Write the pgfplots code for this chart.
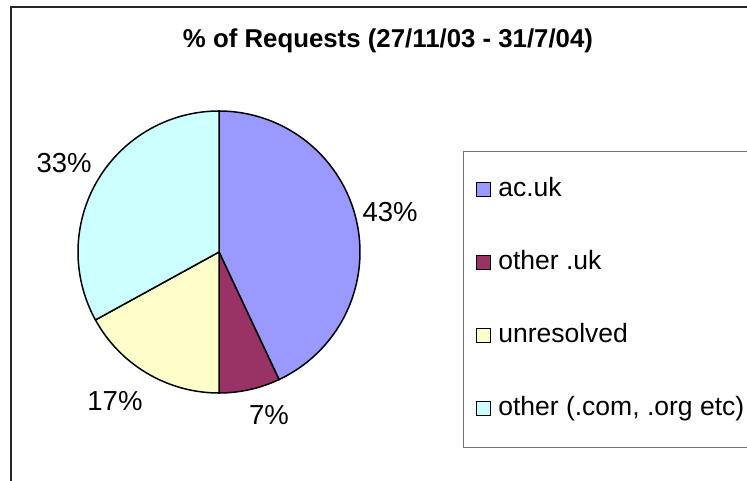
\documentclass[border=0pt]{standalone}
\usepackage{pgfplots}
\pgfplotsset{compat=1.18}
\usepackage{fontspec}
\setmainfont{Liberation Sans}
\definecolor{cA}{HTML}{9999FF}
\definecolor{cB}{HTML}{993366}
\definecolor{cC}{HTML}{FFFFCC}
\definecolor{cD}{HTML}{CCFFFF}
% shares in percent
\def\vA{43}\def\vB{7}\def\vC{17}\def\vD{33}
\begin{document}
\begin{tikzpicture}
\path[use as bounding box] (0pt,0pt) rectangle (747pt,-481pt);
\clip (0pt,0pt) rectangle (747pt,-481pt);
\fill[white] (0pt,0pt) rectangle (747pt,-481pt);
\draw[black!85, line width=1.5pt] (11pt,-7pt) rectangle (780pt,-520pt);
\node[font=\bfseries\fontsize{25.8}{30}\selectfont] at (388pt,-41pt) {\% of Requests (27/11/03 - 31/7/04)};
\draw[black!55, line width=1pt] (463pt,-152pt) rectangle (790pt,-447pt);
\pgfmathsetmacro{\sA}{90}
\pgfmathsetmacro{\sB}{\sA-\vA*3.6}
\pgfmathsetmacro{\sC}{\sB-\vB*3.6}
\pgfmathsetmacro{\sD}{\sC-\vC*3.6}
\pgfmathsetmacro{\sE}{\sD-\vD*3.6}
\begin{axis}[
  at={(219pt,-252pt)}, anchor=center,
  width=282pt, height=282pt, scale only axis,
  xmin=-1, xmax=1, ymin=-1, ymax=1,
  hide axis, clip=false,
  legend cell align=left,
  legend image code/.code={\draw[#1, draw=black, line width=1.3pt] (0pt,-7pt) rectangle (14pt,7pt);},
  legend style={at={(axis description cs:1.40,0.78)}, anchor=north west, draw=none, fill=none,
    row sep=45pt, column sep=5pt,
    font=\fontsize{26.5}{32}\selectfont,
    nodes={inner sep=2pt, text height=19pt, text depth=5pt}},
]
\addplot[fill=cA, draw=black, line width=1.5pt, domain=\sB:\sA, samples=90] ({cos(x)},{sin(x)}) -- (0,0) -- cycle;
\addlegendentry{ac.uk}
\addplot[fill=cB, draw=black, line width=1.5pt, domain=\sC:\sB, samples=30] ({cos(x)},{sin(x)}) -- (0,0) -- cycle;
\addlegendentry{other .uk}
\addplot[fill=cC, draw=black, line width=1.5pt, domain=\sD:\sC, samples=40] ({cos(x)},{sin(x)}) -- (0,0) -- cycle;
\addlegendentry{unresolved}
\addplot[fill=cD, draw=black, line width=1.5pt, domain=\sE:\sD, samples=80] ({cos(x)},{sin(x)}) -- (0,0) -- cycle;
\addlegendentry{other (.com,  .org etc)}
\node[font=\fontsize{27.5}{33}\selectfont] at (axis cs:1.213,0.284) {\vA\%};
\node[font=\fontsize{27.5}{33}\selectfont] at (axis cs:0.355,-1.156) {\vB\%};
\node[font=\fontsize{27.5}{33}\selectfont] at (axis cs:-0.738,-1.057) {\vC\%};
\node[font=\fontsize{27.5}{33}\selectfont] at (axis cs:-1.099,0.631) {\vD\%};
\end{axis}
\end{tikzpicture}
\end{document}
